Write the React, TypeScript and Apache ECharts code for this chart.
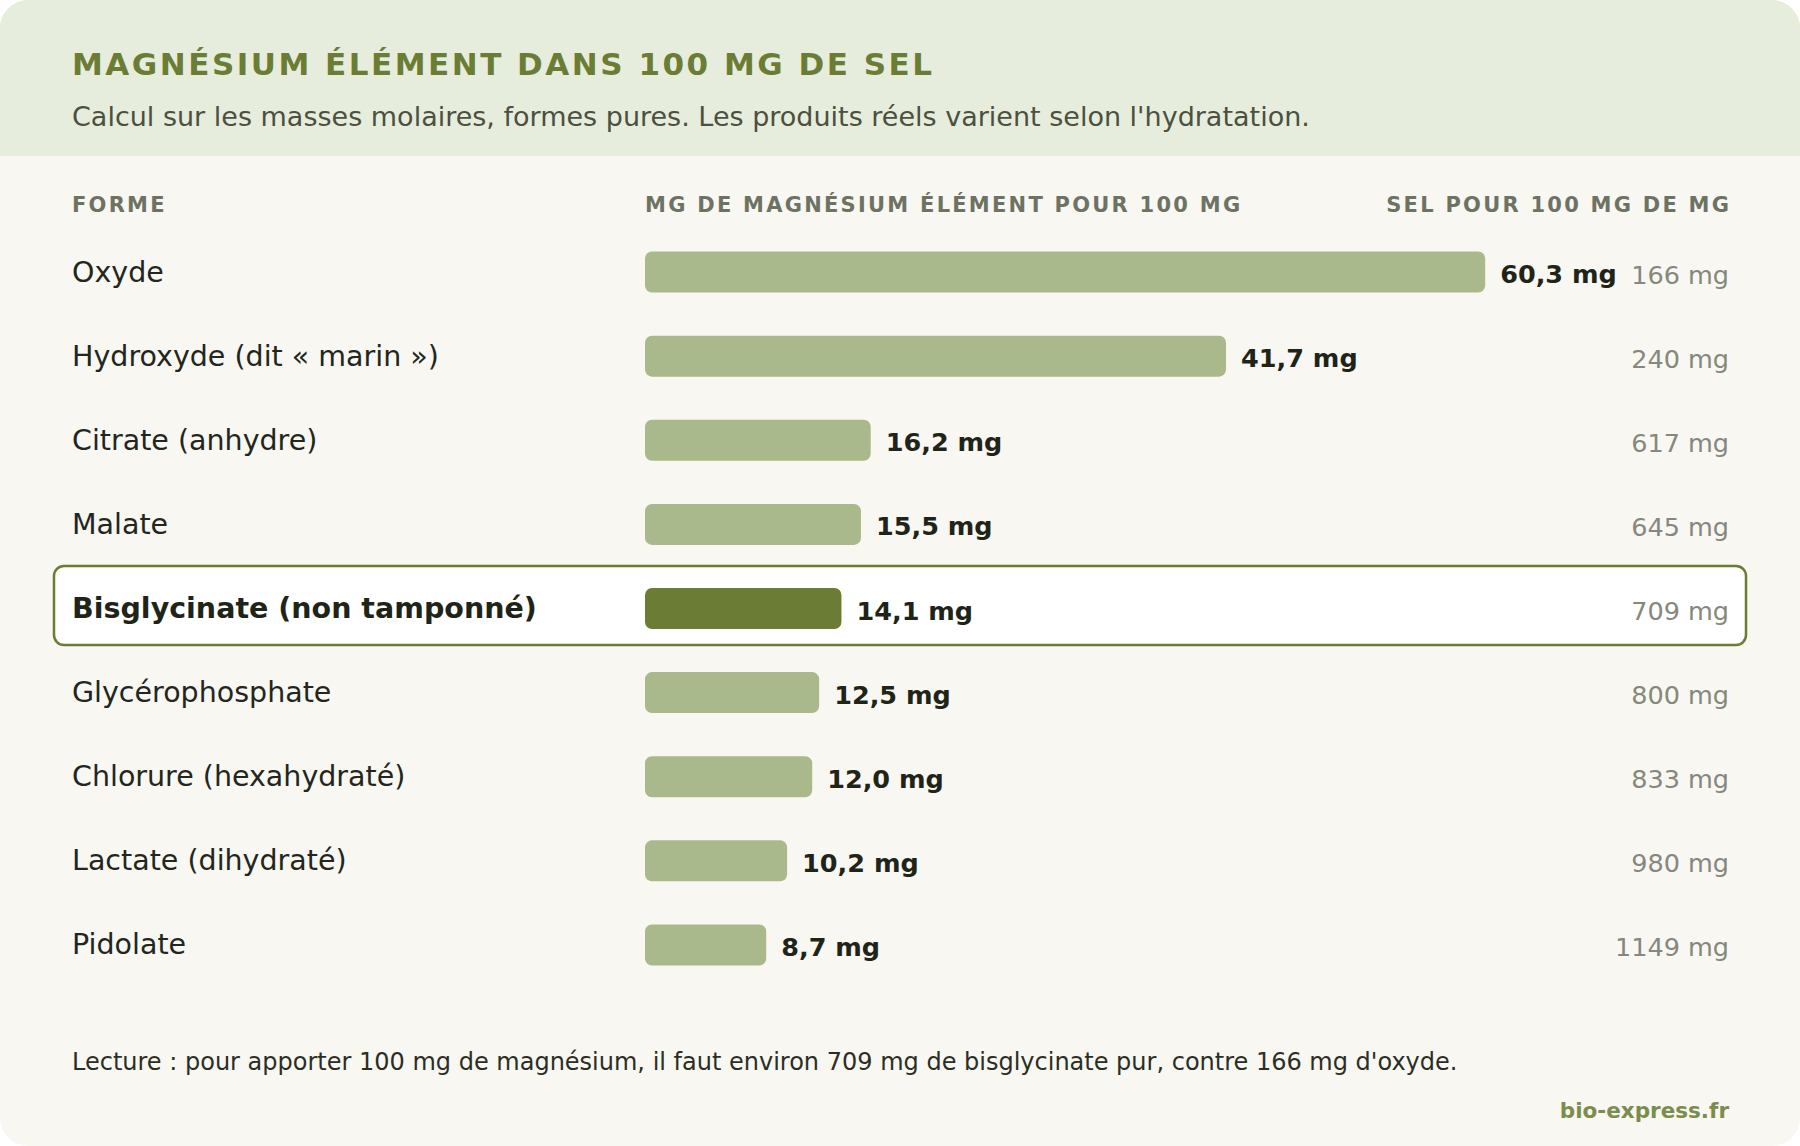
import React, { useEffect, useRef } from "react";
import * as echarts from "echarts";

const FONT = "'DejaVu Sans', Verdana, sans-serif";

const TITLE = "MAGNÉSIUM ÉLÉMENT DANS 100 MG DE SEL";
const SUBTITLE = "Calcul sur les masses molaires, formes pures. Les produits réels varient selon l'hydratation.";
const HEAD_FORM = "FORME";
const HEAD_MG = "MG DE MAGNÉSIUM ÉLÉMENT POUR 100 MG";
const HEAD_SALT = "SEL POUR 100 MG DE MG";
const FOOTNOTE = "Lecture : pour apporter 100 mg de magnésium, il faut environ 709 mg de bisglycinate pur, contre 166 mg d'oxyde.";
const SOURCE = "bio-express.fr";

const forms = [
  "Oxyde",
  "Hydroxyde (dit « marin »)",
  "Citrate (anhydre)",
  "Malate",
  "Bisglycinate (non tamponné)",
  "Glycérophosphate",
  "Chlorure (hexahydraté)",
  "Lactate (dihydraté)",
  "Pidolate",
];
const mgPer100 = [60.3, 41.7, 16.2, 15.5, 14.1, 12.5, 12.0, 10.2, 8.7];
const saltFor100 = [166, 240, 617, 645, 709, 800, 833, 980, 1149];
const highlighted = "Bisglycinate (non tamponné)";

const fmt = (v: number) => v.toFixed(1).replace(".", ",") + " mg";

export default function App() {
  const ref = useRef<HTMLDivElement>(null);
  useEffect(() => {
    document.body.style.margin = "0";
    const el = ref.current!;
    const chart = echarts.init(el, null, { renderer: "svg" });

    const spacing: Record<string, number> = {
      [TITLE]: 2.5,
      [HEAD_FORM]: 2.25,
      [HEAD_MG]: 2.25,
      [HEAD_SALT]: 2.25,
    };
    const applySpacing = () => {
      el.querySelectorAll("text").forEach((t) => {
        const s = spacing[(t.textContent || "").trim()];
        if (s !== undefined) (t as SVGTextElement).style.letterSpacing = s + "px";
      });
    };

    chart.setOption({
      animation: false,
      backgroundColor: "transparent",
      graphic: [
        { type: "rect", z: -10, shape: { x: 0, y: 0, width: 1800, height: 156 }, style: { fill: "#e7eddc" } },
        {
          type: "rect",
          z: -5,
          shape: { x: 54, y: 566, width: 1692, height: 79, r: 10 },
          style: { fill: "#ffffff", stroke: "#6b7d35", lineWidth: 2.5 },
        },
        {
          type: "text", x: 72, y: 64,
          style: { text: TITLE, font: `bold 31px ${FONT}`, fill: "#6b7d35", verticalAlign: "middle" },
        },
        {
          type: "text", x: 72, y: 116,
          style: { text: SUBTITLE, font: `27px ${FONT}`, fill: "#4b5040", verticalAlign: "middle" },
        },
        {
          type: "text", x: 72, y: 205,
          style: { text: HEAD_FORM, font: `bold 21px ${FONT}`, fill: "#6d7263", verticalAlign: "middle" },
        },
        {
          type: "text", x: 645, y: 205,
          style: { text: HEAD_MG, font: `bold 21px ${FONT}`, fill: "#6d7263", verticalAlign: "middle" },
        },
        {
          type: "text", x: 1731.25, y: 205,
          style: { text: HEAD_SALT, font: `bold 21px ${FONT}`, fill: "#6d7263", align: "right", verticalAlign: "middle" },
        },
        {
          type: "text", x: 72, y: 1062,
          style: { text: FOOTNOTE, font: `24px ${FONT}`, fill: "#2b2e24", verticalAlign: "middle" },
        },
        {
          type: "text", x: 1729, y: 1110,
          style: { text: SOURCE, font: `bold 21.5px ${FONT}`, fill: "#7a8d4e", align: "right", verticalAlign: "middle" },
        },
      ],
      grid: { left: 645, top: 230, width: 1084, height: 757, containLabel: false },
      xAxis: { type: "value", min: 0, max: 77.8, show: false, splitLine: { show: false } },
      yAxis: [
        {
          type: "category",
          data: forms,
          inverse: true,
          position: "left",
          axisLine: { show: false },
          axisTick: { show: false },
          splitLine: { show: false },
          axisLabel: {
            align: "left",
            margin: 573,
            fontFamily: FONT,
            fontSize: 28.5,
            color: "#23261d",
            formatter: (v: string) => (v === highlighted ? `{hl|${v}}` : v),
            rich: {
              hl: { fontFamily: FONT, fontSize: 28.5, fontWeight: "bold", color: "#1f2418" },
            },
          },
        },
        {
          type: "category",
          data: saltFor100.map((v) => `${v} mg`),
          inverse: true,
          position: "right",
          axisLine: { show: false },
          axisTick: { show: false },
          splitLine: { show: false },
          axisLabel: {
            align: "right",
            margin: 0,
            formatter: (v: string) => `{s|${v}}`,
            rich: {
              s: {
                fontFamily: FONT,
                fontSize: 25.5,
                color: "#85887c",
                padding: [5, 0, 0, 0],
              },
            },
          },
        },
      ],
      series: [
        {
          type: "bar",
          yAxisIndex: 0,
          barWidth: 41,
          data: mgPer100.map((v, i) => ({
            value: v,
            itemStyle: {
              color: forms[i] === highlighted ? "#6b7d35" : "#aab98b",
              borderRadius: 7,
            },
          })),
          label: {
            show: true,
            position: "right",
            distance: 15,
            offset: [0, 2],
            fontFamily: FONT,
            fontSize: 25.5,
            fontWeight: "bold",
            color: "#1f2418",
            formatter: (p: any) => fmt(p.value),
          },
        },
      ],
    });
    applySpacing();
    chart.on("finished", applySpacing);
    const t1 = setTimeout(applySpacing, 50);
    const t2 = setTimeout(applySpacing, 400);
    return () => {
      clearTimeout(t1);
      clearTimeout(t2);
      chart.dispose();
    };
  }, []);
  return (
    <div
      ref={ref}
      style={{
        width: 1800,
        height: 1146,
        borderRadius: 28,
        overflow: "hidden",
        background: "#f8f7f1",
      }}
    />
  );
}
